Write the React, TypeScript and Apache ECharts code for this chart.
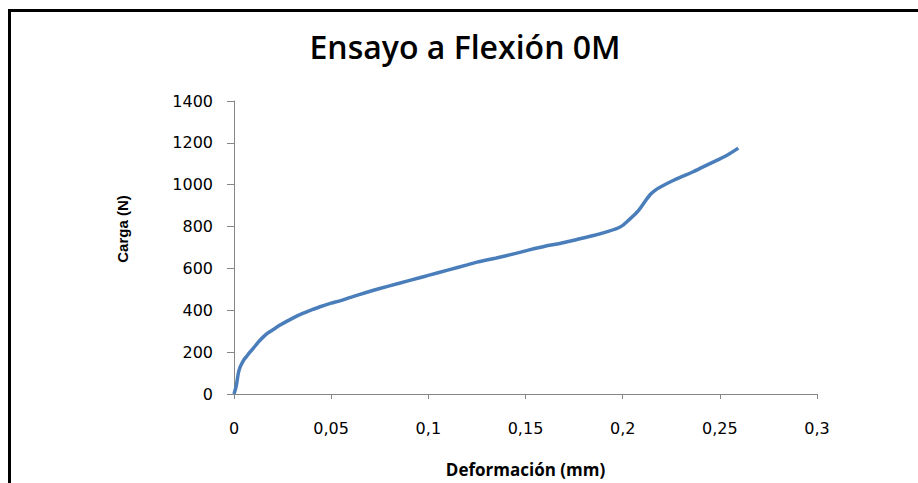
import React, { useEffect, useRef } from "react";
import * as echarts from "echarts";

const titleText = "Ensayo a Flexión 0M";
const xAxisTitle = "Deformación (mm)";
const yAxisTitle = "Carga (N)";

const deformation = [
  0, 0.0008, 0.0014, 0.0022, 0.003, 0.004, 0.0052, 0.0065, 0.0082, 0.0099,
  0.0125, 0.0151, 0.0175, 0.0202, 0.0235, 0.0271, 0.031, 0.0357, 0.04, 0.0443,
  0.05, 0.0545, 0.06, 0.068, 0.075, 0.085, 0.095, 0.1, 0.11, 0.12, 0.125,
  0.135, 0.145, 0.15, 0.16, 0.1677, 0.175, 0.178, 0.185, 0.19, 0.1987, 0.2038,
  0.2081, 0.2115, 0.2141, 0.2165, 0.2192, 0.226, 0.2363, 0.2449, 0.2535, 0.2595,
];
const load = [
  0, 25, 51, 98, 125, 145, 165, 180, 200, 218,
  248, 273, 292, 308, 328, 347, 366, 386, 402, 417,
  434, 445, 462, 485, 504, 529, 554, 567, 592, 617, 630,
  650, 672, 684, 706, 719, 735, 742, 757, 770, 798, 837,
  876, 920, 952, 972, 988, 1020, 1062, 1101, 1140, 1175,
];

const xTicks = { min: 0, max: 0.3, interval: 0.05 };
const yTicks = { min: 0, max: 1400, interval: 200 };

export default function App() {
  const ref = useRef<HTMLDivElement>(null);
  useEffect(() => {
    if (!ref.current) return;
    const chart = echarts.init(ref.current, null, { renderer: "svg" });
    const axisGray = "#868686";
    chart.setOption({
      animation: false,
      backgroundColor: "#ffffff",
      grid: { left: 234, top: 101, right: 101, bottom: 82, containLabel: false },
      xAxis: {
        type: "value",
        min: xTicks.min,
        max: xTicks.max,
        interval: xTicks.interval,
        name: xAxisTitle,
        nameLocation: "middle",
        nameGap: 67,
        nameTextStyle: { fontFamily: "Open Sans", fontWeight: "bold", fontSize: 17, color: "#000" },
        axisLine: { show: true, lineStyle: { color: axisGray, width: 1 } },
        axisTick: { show: true, length: 5, lineStyle: { color: axisGray } },
        splitLine: { show: false },
        axisLabel: {
          margin: 26,
          fontFamily: "DejaVu Sans",
          fontSize: 16,
          color: "#000",
          formatter: (v: number) => String(parseFloat(v.toFixed(2))).replace(".", ","),
        },
      },
      yAxis: {
        type: "value",
        min: yTicks.min,
        max: yTicks.max,
        interval: yTicks.interval,
        axisLine: { show: true, lineStyle: { color: axisGray, width: 1 } },
        axisTick: { show: true, length: 7, lineStyle: { color: axisGray } },
        splitLine: { show: false },
        axisLabel: {
          margin: 21,
          fontFamily: "DejaVu Sans",
          fontSize: 16,
          color: "#000",
          formatter: (v: number) => String(v),
        },
      },
      graphic: [
        { type: "rect", shape: { x: 8, y: 9, width: 920, height: 3 }, style: { fill: "#000" } },
        { type: "rect", shape: { x: 8, y: 9, width: 3, height: 480 }, style: { fill: "#000" } },
        {
          type: "text",
          x: 465,
          y: 46,
          style: {
            text: titleText,
            fontFamily: "Open Sans",
            fontWeight: 600,
            fontSize: 32,
            fill: "#000",
            textAlign: "center",
            textVerticalAlign: "middle",
          },
        },
        {
          type: "text",
          x: 122,
          y: 229,
          rotation: Math.PI / 2,
          style: {
            text: yAxisTitle,
            fontFamily: "Liberation Sans",
            fontWeight: "bold",
            fontSize: 15,
            fill: "#000",
            textAlign: "center",
            textVerticalAlign: "middle",
          },
        },
      ],
      series: [
        {
          type: "line",
          data: deformation.map((d, i) => [d, load[i]]),
          showSymbol: false,
          smooth: 0.3,
          lineStyle: { color: "#4A7EBB", width: 3.5 },
        },
      ],
    });
    return () => chart.dispose();
  }, []);
  return (
    <div
      ref={ref}
      style={{ position: "fixed", left: 0, top: 0, width: 918, height: 483 }}
    />
  );
}
